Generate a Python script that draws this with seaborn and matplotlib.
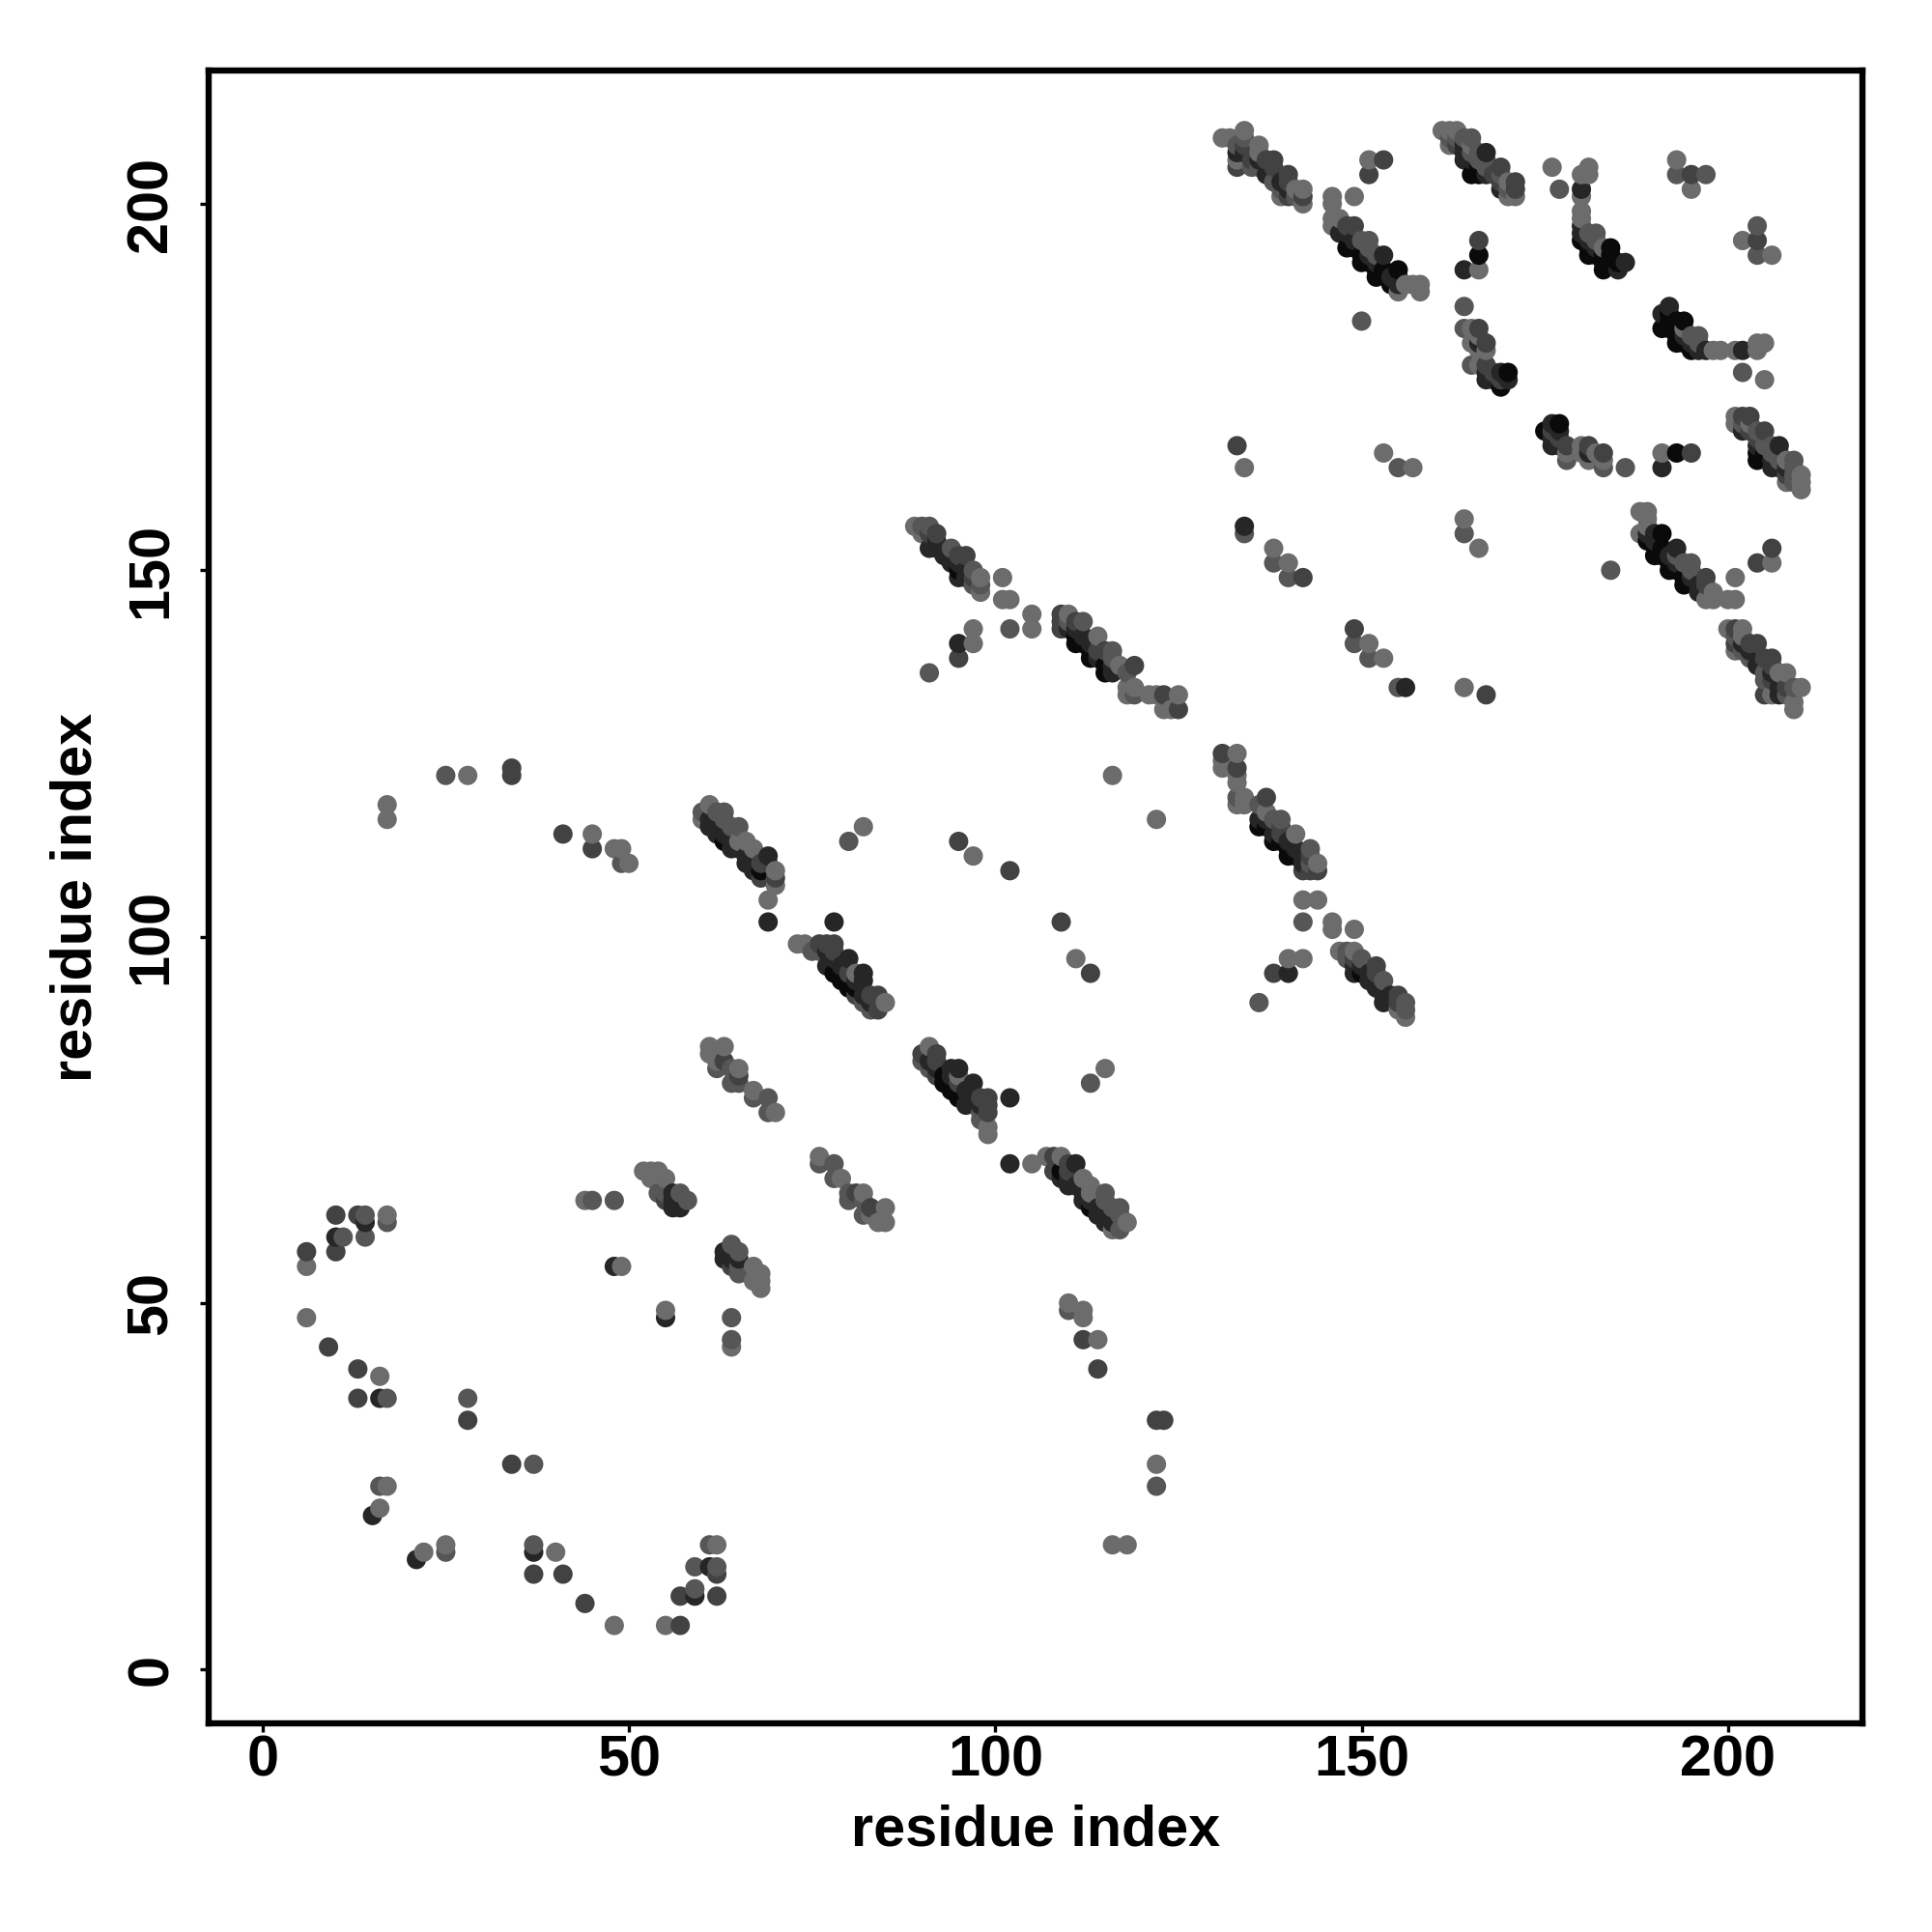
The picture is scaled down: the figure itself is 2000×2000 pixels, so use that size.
import pandas as pd
import matplotlib
matplotlib.use('Agg')
import matplotlib.pyplot as plt
import seaborn as sns

# contact pairs (i, j) with i < j, one list per shade; the map is symmetric
pairs_light = [
    (6, 48), (6, 55), (16, 22), (16, 40), (17, 25), (17, 62), (44, 64), (49, 55),
    (17, 116), (17, 118), (28, 122), (45, 114), (48, 112), (49, 112), (50, 110),
    (52, 68), (53, 68), (54, 68), (53, 67), (55, 67),
    (61, 85), (63, 85), (61, 84), (62, 83), (65, 82), (67, 79), (70, 76),
    (60, 116), (61, 118), (65, 113), (66, 113), (67, 112), (70, 109), (70, 107), (69, 105),
    (73, 99), (74, 99), (81, 95), (85, 91), (91, 85),
    (82, 115), (97, 111), (116, 122),
    (89, 156), (90, 155), (98, 149), (98, 147),
    (101, 149), (101, 146), (102, 146), (105, 144), (105, 142), (97, 142), (97, 140),
    (110, 144), (114, 141), (117, 137), (118, 133), (119, 134),
    (121, 133), (122, 133), (125, 133), (123, 131), (124, 131), (118, 134),
    (134, 164), (138, 153), (140, 151), (151, 140), (153, 138), (164, 134),
    (153, 166), (157, 164), (164, 157), (166, 153),
    (131, 209), (132, 209), (134, 210), (133, 206), (136, 208), (136, 207),
    (139, 201), (141, 202), (142, 200), (142, 202),
    (146, 201), (146, 200), (149, 201), (146, 198), (146, 197), (147, 198),
    (155, 188), (156, 189), (157, 189), (158, 189), (158, 188), (151, 206),
    (161, 210), (162, 210), (163, 210), (162, 208), (165, 208),
    (170, 203), (171, 201), (170, 201),
    (176, 205), (181, 205), (180, 204), (181, 204), (180, 201), (180, 199), (180, 198), (183, 194),
    (193, 206), (195, 202), (206, 193), (166, 191), (165, 183), (165, 181), (167, 180), (166, 180),
    (178, 166), (180, 167), (181, 165), (182, 166), (191, 166),
    (198, 180), (199, 180), (201, 180), (204, 180), (205, 181), (205, 176),
    (208, 165), (210, 163), (210, 162), (210, 161),
]
pairs_mid = [
    (11, 59), (14, 59), (14, 62), (16, 25), (17, 37), (17, 61), (28, 37), (45, 64), (48, 64),
    (25, 122), (49, 110), (55, 65), (54, 65), (57, 65), (58, 64), (67, 55), (68, 52),
    (62, 82), (64, 82), (64, 80), (65, 80), (67, 78), (69, 78), (69, 76),
    (60, 117), (62, 117), (63, 117), (63, 116), (64, 115), (65, 115),
    (75, 98), (76, 98), (82, 91), (83, 90), (80, 113),
    (90, 156), (91, 156), (94, 153), (97, 150), (98, 148), (97, 148), (102, 142), (91, 136),
    (110, 143), (112, 143), (116, 139), (116, 138), (118, 136), (119, 133),
    (134, 155), (138, 151), (140, 149), (149, 140), (151, 138), (155, 134), (164, 155),
    (155, 164),
    (133, 208), (134, 209), (135, 205), (136, 205), (138, 203), (139, 202), (141, 201),
    (151, 195), (151, 194), (150, 195), (152, 193), (150, 184),
    (163, 209), (164, 209), (165, 209), (165, 207), (167, 205), (166, 206), (169, 204), (170, 202),
    (177, 202), (182, 196), (193, 204), (197, 204), (204, 193),
    (164, 186), (164, 183), (165, 178), (178, 165), (183, 165), (186, 164),
    (196, 181), (195, 182), (204, 181), (202, 177),
    (203, 170), (206, 167), (207, 166), (209, 165), (209, 164), (208, 162), (209, 162),
]
pairs_dark = [
    (6, 57), (9, 44), (10, 57), (10, 62), (13, 37), (13, 41), (13, 62), (28, 34),
    (34, 122), (34, 123), (41, 114), (45, 112), (55, 64), (65, 54),
    (63, 83), (65, 81),
    (68, 110), (69, 110), (70, 108), (68, 108),
    (76, 99), (77, 99), (78, 99), (84, 92), (84, 90), (81, 92), (83, 92), (78, 98), (80, 95),
    (95, 113), (102, 109),
    (91, 155), (92, 155), (95, 152), (96, 152), (97, 149), (95, 138),
    (109, 144), (109, 143), (109, 142), (111, 143), (114, 139), (115, 139), (119, 137),
    (123, 133), (125, 131),
    (133, 167), (142, 149), (149, 142), (167, 133),
    (134, 208), (133, 205), (135, 206), (137, 206), (138, 206), (138, 205), (140, 204), (140, 203),
    (140, 201), (142, 201),
    (148, 197), (149, 197), (151, 204), (153, 206),
    (168, 204), (169, 205), (169, 203), (171, 203), (171, 202),
    (181, 196), (195, 204), (166, 195), (166, 183), (167, 181),
    (168, 177), (169, 176), (178, 167), (181, 167), (183, 166), (183, 164), (195, 166),
    (202, 170), (202, 171), (203, 171), (205, 169), (208, 163),
]
pairs_black = [
    (10, 59), (14, 61), (15, 21), (16, 37), (48, 55),
    (56, 65), (56, 63), (57, 63), (56, 64), (57, 64),
    (69, 111), (69, 102), (67, 110), (67, 109), (66, 110), (66, 111), (65, 112), (64, 112),
    (64, 113), (63, 114), (62, 114), (62, 115), (61, 116), (61, 115),
    (78, 102), (80, 97), (82, 95), (82, 94), (82, 92), (77, 96), (77, 98), (78, 97), (79, 96),
    (81, 94), (83, 91),
    (92, 154), (92, 153), (91, 153), (93, 152), (94, 151), (95, 151), (95, 149), (96, 150),
    (96, 149), (94, 152), (95, 140),
    (110, 142), (111, 142), (112, 141), (113, 140), (114, 138), (116, 137), (116, 136),
    (134, 156), (156, 134),
    (133, 207), (134, 207), (136, 206), (137, 204), (139, 203), (140, 202),
    (147, 196), (148, 196), (149, 195), (151, 193), (153, 193), (152, 192), (155, 190),
    (154, 190), (155, 189),
    (164, 206), (164, 207), (165, 206), (167, 207), (169, 202),
    (180, 202), (180, 196), (182, 194), (185, 191), (186, 192),
    (164, 191), (166, 181), (167, 178), (167, 176), (168, 176), (169, 177), (170, 176),
    (176, 170), (176, 168), (177, 167), (181, 166), (191, 164),
    (192, 186), (196, 180), (195, 181), (197, 180), (202, 180),
    (202, 169), (204, 167), (205, 167), (207, 167), (206, 166), (207, 165), (206, 164),
    (207, 164), (208, 164),
]
pairs_ink = [
    (63, 113), (68, 109),
    (79, 94), (78, 95), (80, 93), (81, 93), (79, 95), (80, 94),
    (95, 150),
    (111, 140), (111, 141), (112, 140), (113, 139), (113, 138), (115, 137), (115, 136),
    (148, 194), (149, 194), (150, 192), (150, 193), (151, 192), (152, 190), (152, 191),
    (153, 191), (154, 189), (155, 191),
    (165, 204), (166, 204), (167, 204), (166, 205), (166, 193),
    (180, 195), (181, 195), (181, 194), (181, 193), (182, 193), (183, 193), (183, 191),
    (184, 194), (184, 193), (184, 192), (185, 192),
    (169, 175), (170, 177),
    (177, 170), (175, 169), (176, 169), (177, 168), (177, 169), (176, 167), (193, 166),
    (191, 185), (192, 185), (194, 184), (193, 184), (191, 183), (192, 183), (193, 182),
    (193, 181), (194, 182), (194, 181), (195, 180),
    (203, 169), (204, 168), (204, 166), (205, 166), (206, 165), (209, 163),
]
shades = {'light': '#6c6c6c', 'mid': '#565656', 'dark': '#424242', 'black': '#262626', 'ink': '#0a0a0a'}
tick_vals = [0, 50, 100, 150, 200]

rows = []
for name, pairs in [('light', pairs_light), ('mid', pairs_mid), ('dark', pairs_dark),
                    ('black', pairs_black), ('ink', pairs_ink)]:
    for i, j in pairs:
        rows.append((i, j, name))
        rows.append((j, i, name))
df = pd.DataFrame(rows, columns=['res_x', 'res_y', 'shade'])
df = df.drop_duplicates(['res_x', 'res_y']).sort_values(['res_x', 'res_y'])

sns.set_theme(style='white')
plt.rcParams['font.family'] = ['Liberation Sans', 'DejaVu Sans']

fig = plt.figure(figsize=(10, 10), dpi=200)
ax = fig.add_axes([216 / 2000, 216 / 2000, 1712 / 2000, 1711 / 2000])
sns.scatterplot(data=df, x='res_x', y='res_y', hue='shade', palette=shades,
                s=52, linewidth=0, alpha=1, legend=False, ax=ax)

ax.set_xlim(-7.36, 218.36)
ax.set_ylim(-7.36, 218.2)
ax.set_xticks(tick_vals)
ax.set_yticks(tick_vals)
ax.tick_params(axis='x', length=3.2, width=1.2, color='black', pad=1, bottom=True,
               labelsize=21.4, labelcolor='black')
ax.tick_params(axis='y', length=3.2, width=1.2, color='black', pad=8, left=True,
               labelsize=21.4, labelcolor='black')
for lab in ax.get_xticklabels():
    lab.set_fontweight('bold')
for lab in ax.get_yticklabels():
    lab.set_fontweight('bold')
    lab.set_rotation(90)
    lab.set_va('center')
for sp in ax.spines.values():
    sp.set_linewidth(2.3)
    sp.set_color('black')

ax.set_xlabel('residue index', fontsize=21.4, fontweight='bold', color='black', va='center')
ax.set_ylabel('residue index', fontsize=21.4, fontweight='bold', color='black', va='center')
ax.xaxis.set_label_coords(0.5, -0.065)
ax.yaxis.set_label_coords(-0.08, 0.5)

fig.savefig('out.png', dpi=200, facecolor='white')
